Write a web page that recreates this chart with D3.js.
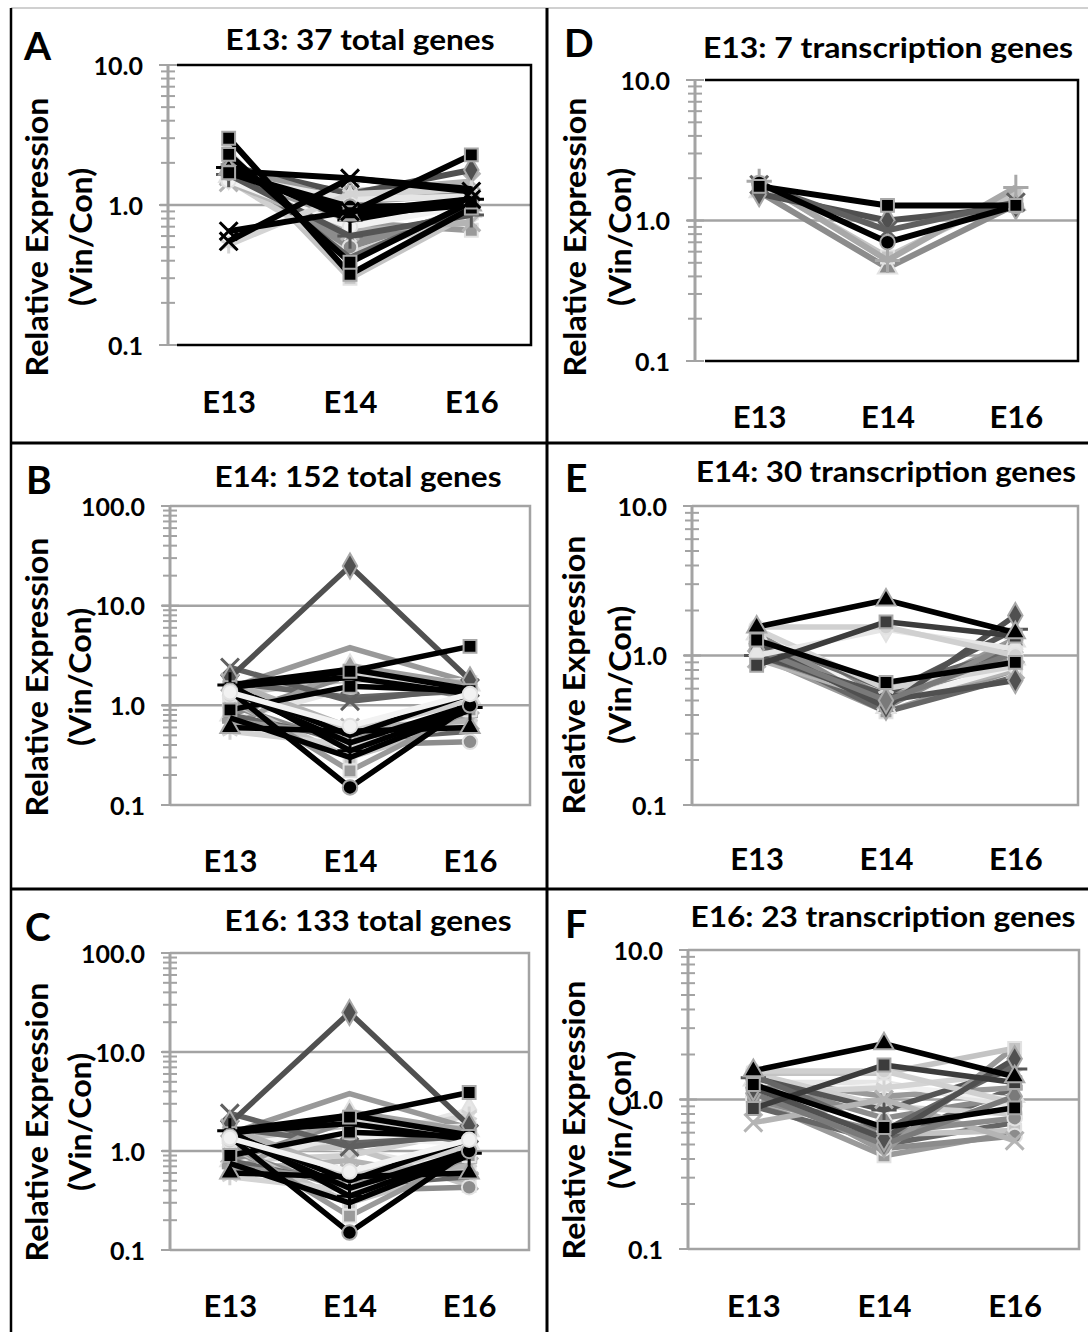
<!DOCTYPE html>
<html>
<head>
<meta charset="utf-8">
<script src="https://cdn.jsdelivr.net/npm/d3@7"></script>
<style>
  body { margin: 0; background: #fff; }
  svg { display: block; }
  text { font-family: Lato, "Open Sans", sans-serif; font-weight: bold; fill: #000; }
</style>
</head>
<body>
<div id="fig"></div>
<script>
// time points on the x axis
var days = ["E13", "E14", "E16"];
var ticks10 = [0.1, 1, 10];
var ticks100 = [0.1, 1, 10, 100];

// each gene: relative expression (Vin/Con) at E13, E14, E16
var genesA = [
  [1.55, 0.75, 0.66], [1.6, 0.55, 0.9], [1.6, 1.25, 1.47], [1.5, 1.2, 1.3],
  [1.9, 1.2, 1.78], [2.4, 0.30, 0.88], [1.5, 0.45, 0.85], [1.7, 0.5, 0.95],
  [2.0, 0.42, 1.0], [1.45, 0.65, 0.75], [1.9, 1.05, 1.2], [1.6, 1.1, 1.15],
  [1.5, 0.7, 1.0], [1.65, 0.6, 0.85], [0.52, 1.2, 1.3], [1.85, 0.78, 1.1],
  [1.8, 0.85, 1.0], [1.7, 0.97, 1.0], [3.0, 0.32, 0.95], [2.3, 0.39, 1.05],
  [1.75, 1.55, 1.3], [0.55, 1.55, 1.25], [1.7, 0.88, 2.28], [0.65, 0.9, 1.1]
];
var shadeA = [16, 2, 3, 4, 1, 8, 13, 12, 17, 3, 7, 9, 18, 6, 4, 15, 10, 5, 0, 0, 21, 14, 0, 14];

var genesB = [
  [1.5, 3.8, 1.7], [0.7, 1.5, 1.8], [1.3, 1.8, 1.7], [0.8, 2.0, 1.2],
  [1.6, 2.0, 1.5], [1.7, 1.2, 1.4], [0.6, 2.5, 1.6], [2.4, 1.1, 1.5],
  [1.0, 0.4, 0.43], [1.1, 0.3, 0.7], [0.8, 0.45, 0.55], [0.55, 0.4, 0.65],
  [0.7, 0.5, 0.8], [1.7, 0.6, 0.7], [1.2, 0.22, 0.9], [1.25, 0.55, 1.1],
  [0.6, 0.55, 0.6], [1.9, 25, 1.8], [0.9, 1.55, 1.4], [1.6, 2.3, 1.45],
  [1.55, 1.9, 1.3], [1.5, 2.2, 3.9], [1.5, 0.5, 1.3], [1.4, 0.42, 1.0],
  [0.75, 0.3, 0.9], [1.6, 0.35, 0.95], [1.4, 0.15, 1.0], [1.35, 0.62, 1.3]
];
var shadeB = [22, 9, 8, 2, 4, 17, 23, 20, 12, 8, 17, 4, 7, 3, 16, 13, 10, 1, 0, 21, 21, 0, 21, 21, 21, 15, 5, 18];

// E16 panel: the E14 genes plus extra light ones drawn underneath
var extraC = [
  [1.1, 1.2, 2.6], [0.9, 1.3, 2.3], [1.2, 1.05, 0.6], [1.0, 1.1, 0.45],
  [0.8, 0.9, 1.6], [1.3, 1.35, 1.2], [0.65, 0.8, 0.5]
];
var shadeExtraC = [9, 4, 9, 8, 13, 18, 3];

var genesD = [
  [1.6, 0.46, 1.3], [1.85, 0.55, 1.55], [1.9, 0.52, 1.72], [1.55, 1.0, 1.25],
  [1.8, 0.85, 1.35], [1.85, 0.70, 1.27], [1.75, 1.28, 1.28]
];
var shadeD = [2, 8, 19, 1, 20, 5, 0];

var genesE = [
  [1.0, 0.42, 0.8], [1.1, 0.42, 0.72], [1.4, 0.55, 0.95], [1.3, 0.5, 1.2],
  [1.2, 0.47, 1.3], [0.95, 0.5, 0.8], [1.0, 0.52, 0.95], [1.45, 0.58, 0.9],
  [1.5, 0.48, 0.85], [1.3, 0.6, 1.1], [1.4, 0.45, 1.25], [1.0, 0.55, 1.5],
  [1.5, 0.6, 0.85], [1.05, 0.5, 0.68], [1.2, 0.45, 1.85], [1.1, 0.5, 1.05],
  [1.0, 1.5, 1.1], [1.55, 1.55, 1.0], [0.86, 1.68, 1.35], [1.27, 0.66, 0.9],
  [1.55, 2.35, 1.42]
];
var shadeE = [16, 17, 2, 12, 7, 3, 12, 8, 18, 17, 2, 6, 4, 1, 1, 24, 9, 13, 11, 0, 10];

var genesF = [
  [1.0, 0.42, 0.6], [1.2, 0.5, 0.7], [1.0, 0.58, 0.62], [1.2, 0.47, 0.57],
  [0.9, 0.52, 1.2], [1.35, 0.75, 1.05], [1.4, 1.05, 1.2], [1.3, 1.3, 0.9],
  [1.05, 1.25, 1.0], [1.1, 1.2, 1.5], [1.5, 0.9, 0.8], [1.4, 0.85, 1.6],
  [0.7, 1.0, 0.53], [1.0, 0.6, 0.75], [1.45, 0.62, 1.7], [1.3, 0.45, 2.25],
  [1.5, 1.5, 2.2], [1.55, 1.55, 0.95], [1.1, 0.5, 1.05], [1.2, 0.55, 1.87],
  [0.87, 1.7, 1.3], [1.26, 0.65, 0.88], [1.56, 2.36, 1.42]
];
var shadeF = [16, 17, 8, 12, 17, 2, 7, 9, 18, 4, 13, 6, 3, 12, 17, 22, 8, 13, 24, 1, 11, 0, 10];

// line colour / marker for each shade id
var palette = [
  { color: "#000000", marker: "square" },   // 0
  { color: "#505050", marker: "diamond" },  // 1
  { color: "#8c8c8c", marker: "triangle" }, // 2
  { color: "#b4b4b4", marker: "times" },    // 3
  { color: "#d4d4d4", marker: "asterisk" }, // 4
  { color: "#000000", marker: "circle" },   // 5
  { color: "#555555", marker: "plus" },     // 6
  { color: "#9a9a9a", marker: "dash" },     // 7
  { color: "#c4c4c4", marker: "square" },   // 8
  { color: "#e6e6e6", marker: "diamond" },  // 9
  { color: "#000000", marker: "triangle" }, // 10
  { color: "#3c3c3c", marker: "square" },   // 11
  { color: "#8c8c8c", marker: "circle" },   // 12
  { color: "#d0d0d0", marker: "circle" },   // 13
  { color: "#000000", marker: "times" },    // 14
  { color: "#000000", marker: "plus" },     // 15
  { color: "#9a9a9a", marker: "square" },   // 16
  { color: "#666666", marker: "none" },     // 17
  { color: "#f2f2f2", marker: "circle" },   // 18
  { color: "#a8a8a8", marker: "plus" },     // 19
  { color: "#606060", marker: "times" },    // 20
  { color: "#000000", marker: "none" },     // 21
  { color: "#999999", marker: "none" },     // 22
  { color: "#a0a0a0", marker: "triangle" }, // 23
  { color: "#7a7a7a", marker: "diamond" }   // 24
];

var panels = [
  { key: "A", title: "E13: 37 total genes", genes: genesA, shades: shadeA, ticks: ticks10,
    x0: 168, x1: 532, yTop: 65, yBot: 345, frame: "black", boxLeft: 177, boxRight: 531,
    titleX: 360, titleY: 50, titleW: 269, letterX: 24, letterY: 60, ylabY: 237, ylab1X: 48, ylab2X: 92, xlabY: 413, lw: 6 },
  { key: "B", title: "E14: 152 total genes", genes: genesB, shades: shadeB, ticks: ticks100,
    x0: 170, x1: 530, yTop: 506, yBot: 805, frame: "gray", boxRight: 530,
    titleX: 358, titleY: 487, titleW: 287, letterX: 26, letterY: 494, ylabY: 677, ylab1X: 48, ylab2X: 91, xlabY: 872, lw: 5.5 },
  { key: "C", title: "E16: 133 total genes", genes: extraC.concat(genesB), shades: shadeExtraC.concat(shadeB), ticks: ticks100,
    x0: 170, x1: 529, yTop: 953, yBot: 1250, frame: "gray", boxRight: 529,
    titleX: 368, titleY: 931, titleW: 287, letterX: 25, letterY: 941, ylabY: 1122, ylab1X: 48, ylab2X: 91, xlabY: 1317, lw: 5.5 },
  { key: "D", title: "E13: 7 transcription genes", genes: genesD, shades: shadeD, ticks: ticks10,
    x0: 695, x1: 1080, yTop: 80, yBot: 361, frame: "black", boxLeft: 705, boxRight: 1078,
    titleX: 888, titleY: 58, titleW: 370, letterX: 564, letterY: 57, ylabY: 237, ylab1X: 586, ylab2X: 631, xlabY: 428, lw: 6 },
  { key: "E", title: "E14: 30 transcription genes", genes: genesE, shades: shadeE, ticks: ticks10,
    x0: 692, x1: 1080, yTop: 506, yBot: 805, frame: "gray", boxRight: 1078,
    titleX: 886, titleY: 482, titleW: 380, letterX: 565, letterY: 492, ylabY: 675, ylab1X: 585, ylab2X: 631, xlabY: 870, lw: 5.5 },
  { key: "F", title: "E16: 23 transcription genes", genes: genesF, shades: shadeF, ticks: ticks10,
    x0: 688, x1: 1080, yTop: 950, yBot: 1249, frame: "gray", boxRight: 1079,
    titleX: 883, titleY: 927, titleW: 385, letterX: 565, letterY: 938, ylabY: 1120, ylab1X: 585, ylab2X: 631, xlabY: 1317, lw: 5.5 }
];

var W = 1088, H = 1332;
var svg = d3.select("#fig").append("svg").attr("width", W).attr("height", H);
var axisGray = "#a3a3a3";

// figure frame and dividers
svg.append("line").attr("x1", 11).attr("x2", W).attr("y1", 8).attr("y2", 8)
  .attr("stroke", "#d0d0d0").attr("stroke-width", 2);
svg.append("line").attr("x1", 11).attr("x2", 11).attr("y1", 8).attr("y2", H)
  .attr("stroke", "#000").attr("stroke-width", 2.5);
svg.append("line").attr("x1", 547).attr("x2", 547).attr("y1", 8).attr("y2", H)
  .attr("stroke", "#000").attr("stroke-width", 3);
[443, 889].forEach(function(yy) {
  svg.append("line").attr("x1", 11).attr("x2", W).attr("y1", yy).attr("y2", yy)
    .attr("stroke", "#000").attr("stroke-width", 3);
});

var symbolTypes = {
  square: [d3.symbolSquare, 165, true],
  diamond: [d3.symbolDiamond, 180, true],
  triangle: [d3.symbolTriangle, 160, true],
  circle: [d3.symbolCircle, 165, true],
  times: [d3.symbolTimes, 210, false],
  asterisk: [d3.symbolAsterisk, 210, false],
  plus: [d3.symbolPlus, 210, false]
};

function markerStroke(c) {
  return d3.hsl(c).l < 0.5 ? "#a8a8a8" : "#e2e2e2";
}

panels.forEach(function(p) {
  var g = svg.append("g");
  var x = d3.scalePoint().domain(days).range([p.x0, p.x1]).padding(0.5);
  var y = d3.scaleLog().domain([p.ticks[0], p.ticks[p.ticks.length - 1]]).range([p.yBot, p.yTop]);

  // gridlines at the inner decades
  g.selectAll(".grid").data(p.ticks.slice(1, -1)).enter().append("line")
    .attr("x1", p.x0 - 8).attr("x2", p.boxRight)
    .attr("y1", function(d) { return y(d); }).attr("y2", function(d) { return y(d); })
    .attr("stroke", axisGray).attr("stroke-width", 2.5);

  // plot frame
  if (p.frame === "black") {
    g.append("path")
      .attr("d", "M" + p.boxLeft + "," + p.yTop + "H" + p.boxRight + "V" + p.yBot + "H" + p.boxLeft)
      .attr("fill", "none").attr("stroke", "#000").attr("stroke-width", 2.5);
  } else {
    g.append("path")
      .attr("d", "M" + p.x0 + "," + p.yTop + "H" + p.boxRight + "V" + p.yBot + "H" + p.x0)
      .attr("fill", "none").attr("stroke", axisGray).attr("stroke-width", 2.5);
  }

  // y axis: line, crossing ticks at every log step, decade labels
  g.append("line").attr("x1", p.x0).attr("x2", p.x0).attr("y1", p.yTop).attr("y2", p.yBot)
    .attr("stroke", axisGray).attr("stroke-width", 3);
  g.selectAll(".tick").data(y.ticks()).enter().append("line")
    .attr("x1", function(d) { return p.ticks.indexOf(d) >= 0 ? p.x0 - 9 : p.x0 - 7; })
    .attr("x2", function(d) { return p.ticks.indexOf(d) >= 0 ? p.x0 + 9 : p.x0 + 7; })
    .attr("y1", function(d) { return y(d); }).attr("y2", function(d) { return y(d); })
    .attr("stroke", axisGray).attr("stroke-width", 2);

  var yAxis = d3.axisLeft(y).tickValues(p.ticks).tickSize(0).tickPadding(25)
    .tickFormat(d3.format(".1f"));
  var ya = g.append("g").attr("transform", "translate(" + p.x0 + ",0)").call(yAxis);
  ya.select(".domain").remove();
  ya.selectAll("text").attr("font-size", 25).attr("dy", "0.36em")
    .style("font-family", "Lato, sans-serif").style("font-weight", "bold");

  // x axis labels
  var xAxis = d3.axisBottom(x).tickSize(0).tickPadding(0);
  var xa = g.append("g").attr("transform", "translate(0," + p.xlabY + ")").call(xAxis);
  xa.select(".domain").remove();
  xa.selectAll("text").attr("dy", 0).attr("y", 0).attr("font-size", 31)
    .style("font-family", "Lato, sans-serif").style("font-weight", "bold");

  // series
  var line = d3.line()
    .x(function(v, i) { return x(days[i]); })
    .y(function(v) { return y(v); });

  p.genes.forEach(function(vals, si) {
    var st = palette[p.shades[si]];
    var s = g.append("g");
    s.append("path").attr("d", line(vals)).attr("fill", "none")
      .attr("stroke", st.color).attr("stroke-width", p.lw)
      .attr("stroke-linejoin", "round");
    if (st.marker === "none") return;
    vals.forEach(function(v, i) {
      var tx = "translate(" + x(days[i]) + "," + y(v) + ")";
      if (st.marker === "dash") {
        s.append("rect").attr("x", -8).attr("y", -3).attr("width", 16).attr("height", 6)
          .attr("transform", tx).attr("fill", st.color);
        return;
      }
      var def = symbolTypes[st.marker];
      var m = s.append("path").attr("d", d3.symbol(def[0], def[1])()).attr("transform", tx);
      if (def[2]) {
        m.attr("fill", st.color).attr("stroke", markerStroke(st.color)).attr("stroke-width", 2);
      } else {
        m.attr("fill", "none").attr("stroke", st.color).attr("stroke-width", 3);
      }
    });
  });

  // titles and labels
  g.append("text").attr("x", p.titleX).attr("y", p.titleY).attr("text-anchor", "middle")
    .attr("font-size", 29).attr("textLength", p.titleW).attr("lengthAdjust", "spacingAndGlyphs")
    .text(p.title);
  g.append("text").attr("x", p.letterX).attr("y", p.letterY).attr("font-size", 39).text(p.key);
  g.append("text").attr("transform", "translate(" + p.ylab1X + "," + p.ylabY + ") rotate(-90)")
    .attr("text-anchor", "middle").attr("font-size", 30)
    .attr("textLength", 279).attr("lengthAdjust", "spacingAndGlyphs").text("Relative Expression");
  g.append("text").attr("transform", "translate(" + p.ylab2X + "," + p.ylabY + ") rotate(-90)")
    .attr("text-anchor", "middle").attr("font-size", 30)
    .attr("textLength", 138).attr("lengthAdjust", "spacingAndGlyphs").text("(Vin/Con)");
});
</script>
</body>
</html>
